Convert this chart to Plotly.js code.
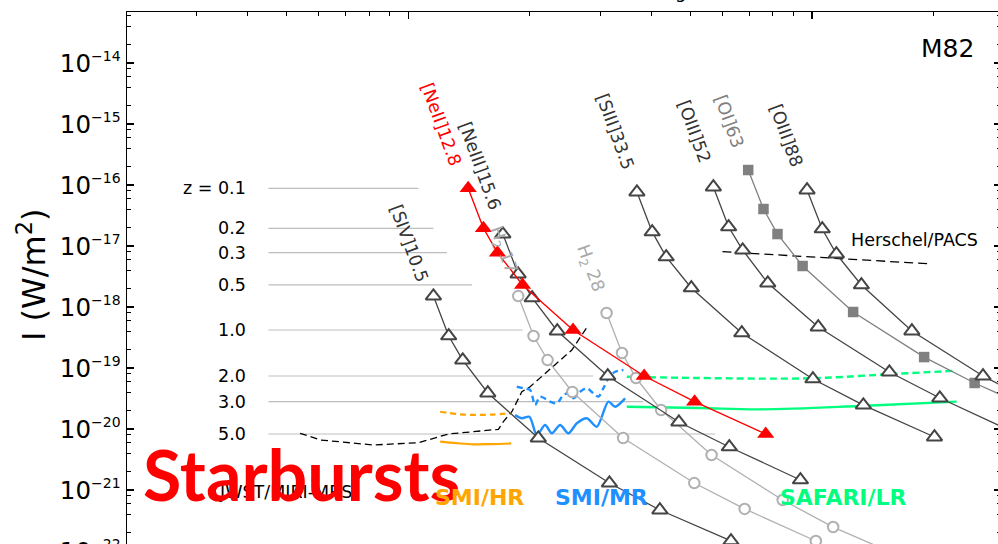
<!DOCTYPE html>
<html><head><meta charset="utf-8">
<script src="https://cdn.plot.ly/plotly-3.0.1.min.js"></script>
<style>html,body{margin:0;padding:0;overflow:hidden;background:#fff;width:998px;height:544px}#chart{width:1041px;height:672px}</style>
</head><body><div id="chart"></div>
<script>
// ---------- data (observed wavelength in micron, intensity in W/m^2), z = 0.1,0.2,0.3,0.5,1,2,3,5 ----------
const zLabels = ['z = 0.1','0.2','0.3','0.5','1.0','2.0','3.0','5.0'];
const yTickVals = [1e-22,1e-21,1e-20,1e-19,1e-18,1e-17,1e-16,1e-15,1e-14];
const yTickExp  = ['\u221222','\u221221','\u221220','\u221219','\u221218','\u221217','\u221216','\u221215','\u221214'];

const siv_x   = [11.55,12.6,13.65,15.75,21.0,31.5,42.0,63.0];
const siv_y   = [1.51e-18,3.35e-19,1.35e-19,3.89e-20,7.11e-21,1.30e-21,4.70e-22,1.46e-22];

const neii_x  = [14.08,15.36,16.64,19.2,25.6,38.4,51.2,76.8];
const neii_y  = [8.83e-17,1.95e-17,7.76e-18,2.30e-18,4.20e-19,7.39e-20,2.81e-20,8.28e-21];

const neiii_x = [17.16,18.72,20.28,23.4,31.2,46.8,62.4,93.6];
const neiii_y = [1.57e-17,3.47e-18,1.41e-18,4.04e-19,7.39e-20,1.30e-20,5.07e-21,1.46e-21];

const h2a_x   = [18.73,20.44,22.14,25.5,34.06,51.1,68.1,102.2];
const h2a_y   = [1.51e-18,3.35e-19,1.35e-19,4.04e-20,7.11e-21,1.30e-21,4.89e-22,1.46e-22];

const h2b_x   = [31.0,33.84,36.66,42.3,56.4,84.6,112.8,169.2];
const h2b_y   = [7.98e-19,1.76e-19,6.85e-20,2.05e-20,3.75e-21,6.85e-22,2.47e-22,7.67e-23];

const siii_x  = [36.85,40.2,43.55,50.25,67.0,100.5,134.0,201.0];
const siii_y  = [7.67e-17,1.70e-17,6.61e-18,2.05e-18,3.75e-19,6.61e-20,2.47e-20,7.39e-21];

const oiii52_x = [56.98,62.16,67.34,77.7,103.6,155.4,207.2,310.8];
const oiii52_y = [9.27e-17,2.05e-17,8.59e-18,2.47e-18,4.70e-19,8.59e-20,3.22e-20,9.27e-21];

const oi63_x  = [69.5,75.82,82.13,94.77,126.4,189.5,252.7,379.1];
const oi63_y  = [1.76e-16,4.04e-17,1.57e-17,4.70e-18,8.28e-19,1.51e-19,5.68e-20,1.70e-20];

const oiii88_x = [97.2,106.0,114.9,132.5,176.7,265.1,353.4,530.2];
const oiii88_y = [8.28e-17,1.90e-17,7.39e-18,2.30e-18,4.04e-19,7.39e-20,2.77e-20,8.28e-21];

// redshift reference lines (flux of [NeII]12.8 at each z)
const zline_start = 4.51;
const zline_end   = [10.60,11.55,12.47,14.38,19.22,28.71,38.22,57.54];

// instrument sensitivities
const jwst_x = [5.40,6.06,8.21,10.60,12.58,16.73,17.21,18.06,19.12,20.04,25.42,27.95];
const jwst_y = [8.51e-21,6.61e-21,5.47e-21,5.96e-21,8.28e-21,9.89e-21,1.32e-20,1.92e-20,4.08e-20,4.93e-20,1.97e-19,5.07e-19];

const pacs_x = [60,198];
const pacs_y = [8.07e-18,5.07e-18];

const smihr_dash_x = [12.0,13.2,14.5,16.0,18.0];
const smihr_dash_y = [1.92e-20,1.76e-20,1.70e-20,1.72e-20,1.82e-20];
const smihr_sol_x  = [12.0,13.2,14.5,16.0,18.0];
const smihr_sol_y  = [6.19e-21,5.85e-21,5.61e-21,5.65e-21,5.80e-21];

const smimr_dash_x = [18.58,19.29,20.04,20.62,21.22,22.47,23.34,24.23,24.94,25.66,26.65,27.69,28.75,29.58,30.44,31.32,32.54,34.12];
const smimr_dash_y = [4.93e-20,4.65e-20,4.36e-20,2.47e-20,3.39e-20,2.81e-20,2.64e-20,3.61e-20,3.85e-20,3.18e-20,4.08e-20,4.65e-20,3.85e-20,3.39e-20,4.65e-20,6.78e-20,8.69e-20,9.27e-20];
const smimr_sol_x  = [18.40,19.12,19.96,20.83,21.83,22.69,23.78,24.94,26.16,27.69,29.31,31.32,32.54,34.45];
const smimr_sol_y  = [1.70e-20,1.50e-20,1.59e-20,7.98e-21,1.16e-20,8.51e-21,1.16e-20,8.51e-21,1.24e-20,1.50e-20,1.09e-20,2.81e-20,2.32e-20,3.18e-20];

const safari_dash_x = [34.78,52.8,98.9,158.7,228.1];
const safari_dash_y = [7.19e-20,6.85e-20,6.78e-20,7.98e-20,9.03e-20];
const safari_sol_x  = [34.78,52.8,74.3,131.5,228.1];
const safari_sol_y  = [2.32e-20,2.21e-20,2.10e-20,2.38e-20,2.81e-20];

// ---------- drawing ----------
const FONT = 'DejaVu Sans, sans-serif';
const DARK = '#444444';
const traces = [];

zline_end.forEach((xe, i) => {
  traces.push({x:[zline_start, xe], y:[neii_y[i], neii_y[i]], mode:'lines',
    line:{color:'#bdbdbd', width:1.2}, hoverinfo:'skip'});
});

function ln(x, y, color, width, dash, shape, smooth) {
  traces.push({x, y, mode:'lines', line:{color, width, dash: dash || 'solid', shape: shape || 'linear', smoothing: smooth || 1.0}, hoverinfo:'skip'});
}
ln(jwst_x, jwst_y, '#000', 1.3, '7px,4px');
ln(pacs_x, pacs_y, '#000', 1.3, '9px,5px');
ln(smihr_dash_x, smihr_dash_y, '#FFA500', 2.2, '6px,4px', 'spline');
ln(smihr_sol_x, smihr_sol_y, '#FFA500', 2.2, 'solid', 'spline');
ln(smimr_dash_x, smimr_dash_y, '#1E90FF', 2.4, '6px,4px', 'spline', 0.8);
ln(smimr_sol_x, smimr_sol_y, '#1E90FF', 2.4, 'solid', 'spline', 0.8);
ln(safari_dash_x, safari_dash_y, '#00FF7F', 2.4, '7px,4px', 'spline');
ln(safari_sol_x, safari_sol_y, '#00FF7F', 2.4, 'solid', 'spline');

function species(x, y, lineColor, lw, marker) {
  traces.push({x, y, mode:'lines+markers', line:{color:lineColor, width:lw}, marker, hoverinfo:'skip'});
}
const circ = {symbol:'circle', size:10.5, color:'#fff', line:{color:'#b0b0b0', width:2}};
const tri  = {symbol:'triangle-up', size:13.5, color:'#fff', line:{color:DARK, width:2}};
species(h2a_x, h2a_y, '#b0b0b0', 1.3, circ);
species(h2b_x, h2b_y, '#b0b0b0', 1.3, circ);
species(siv_x, siv_y, DARK, 1.3, tri);
species(neiii_x, neiii_y, DARK, 1.3, tri);
species(siii_x, siii_y, DARK, 1.3, tri);
species(oiii52_x, oiii52_y, DARK, 1.3, tri);
species(oi63_x, oi63_y, '#808080', 1.3, {symbol:'square', size:10.5, color:'#808080', line:{width:0}});
species(oiii88_x, oiii88_y, DARK, 1.3, tri);
species(neii_x, neii_y, '#ff0000', 1.4, {symbol:'triangle-up', size:15, color:'#ff0000', line:{width:0}});

// ---------- annotations ----------
const L = 127, T = 12, PW = 874, PH = 600;
function ann(text, px, py, o) {
  return Object.assign({xref:'paper', yref:'paper', x:(px-L)/PW, y:(T+PH-py)/PH, text,
    showarrow:false, xanchor:'center', yanchor:'middle',
    font:{family:FONT, size:17.5, color:'#333'}}, o || {});
}
const anns = [];
anns.push(ann('JWST/MIRI-MRS', 217, 492, {xanchor:'left', font:{family:FONT, size:17.5, color:'#000'}}));
anns.push(ann('Starbursts', 301, 474, {font:{family:'Lato, sans-serif', size:70, color:'#ff0000', weight:'bold'}}));
anns.push(ann('SMI/HR', 479, 497, {font:{family:FONT, size:22, color:'#FFA500', weight:'bold'}}));
anns.push(ann('SMI/MR', 601, 497, {font:{family:FONT, size:22, color:'#1E90FF', weight:'bold'}}));
anns.push(ann('SAFARI/LR', 843.5, 497, {font:{family:FONT, size:22, color:'#00FF7F', weight:'bold'}}));
anns.push(ann('M82', 976, 48, {xanchor:'right', font:{family:FONT, size:25, color:'#000'}}));
anns.push(ann('Herschel/PACS', 849, 240, {xanchor:'left', font:{family:FONT, size:17.5, color:'#000'}}));
anns.push(ann('I (W/m<sup>2</sup>)', 32, 275, {textangle:-90, font:{family:FONT, size:32, color:'#000'}}));
anns.push(ann('g', 680, 4, {yanchor:'bottom', font:{family:FONT, size:18, color:'#000'}}));
const zLineY = [188.3,228.3,252.7,285,330,376,401.7,434];
zLabels.forEach((t, i) => anns.push(ann(t, 248, zLineY[i], {xanchor:'right', font:{family:FONT, size:17.5, color:'#000'}})));
const rot = 70;
anns.push(ann('[NeII]12.8', 441, 124, {textangle:rot, font:{family:FONT, size:17.5, color:'#ff0000'}}));
anns.push(ann('[NeIII]15.6', 480, 166, {textangle:rot}));
anns.push(ann('[SIV]10.5', 409, 243, {textangle:rot}));
anns.push(ann('[SIII]33.5', 615, 131, {textangle:rot}));
anns.push(ann('[OIII]52', 694, 131, {textangle:rot}));
anns.push(ann('[OI]63', 729, 121, {textangle:rot, font:{family:FONT, size:17.5, color:'#808080'}}));
anns.push(ann('[OIII]88', 786, 135, {textangle:rot}));
anns.push(ann('H<sub>2</sub> 28', 590, 268, {textangle:rot, font:{family:FONT, size:17.5, color:'#aaaaaa'}}));
anns.push(ann('H<sub>2</sub> 17', 502, 250, {textangle:rot, font:{family:FONT, size:17.5, color:'#aaaaaa'}}));

const yTickText = yTickExp.map(e => '10<sup><span style="font-size:14px">' + e + '</span></sup>');
const yMinor = [];
for (let n = -23; n <= -14; n++) [2,4,6,8].forEach(m => yMinor.push(m * Math.pow(10, n)));
const xMinor = [];
for (let n = 0; n <= 2; n++) for (let m = 2; m <= 9; m++) xMinor.push(m * Math.pow(10, n));

const layout = {
  width: 1041, height: 672,
  margin: {l: L, r: 40, t: T, b: 60, pad: 0},
  paper_bgcolor: '#fff', plot_bgcolor: '#fff', showlegend: false,
  font: {family: FONT, color: '#000'},
  xaxis: {type:'log', range:[Math.log10(2.013), Math.log10(293.7)], side:'top',
    showgrid:false, zeroline:false, showline:true, linecolor:'#000', linewidth:1.5, mirror:'ticks',
    ticks:'inside', ticklen:7, tickwidth:1.2, tickcolor:'#000',
    tickmode:'array', tickvals:[10,100], showticklabels:false,
    minor:{tickmode:'array', tickvals:xMinor, ticks:'inside', ticklen:4, tickwidth:1, tickcolor:'#000', showgrid:false}},
  yaxis: {type:'log', range:[-23, -13.164],
    showgrid:false, zeroline:false, showline:true, linecolor:'#000', linewidth:1.5, mirror:'ticks',
    ticks:'inside', ticklen:7, tickwidth:1.2, tickcolor:'#000',
    tickmode:'array', tickvals:yTickVals, ticktext:yTickText,
    tickfont:{family:FONT, size:24.5, color:'#000'}, ticklabelstandoff:0,
    minor:{tickmode:'array', tickvals:yMinor, ticks:'inside', ticklen:4, tickwidth:1, tickcolor:'#000', showgrid:false}},
  annotations: anns
};
Plotly.newPlot('chart', traces, layout, {staticPlot:true, displayModeBar:false});
</script></body></html>
